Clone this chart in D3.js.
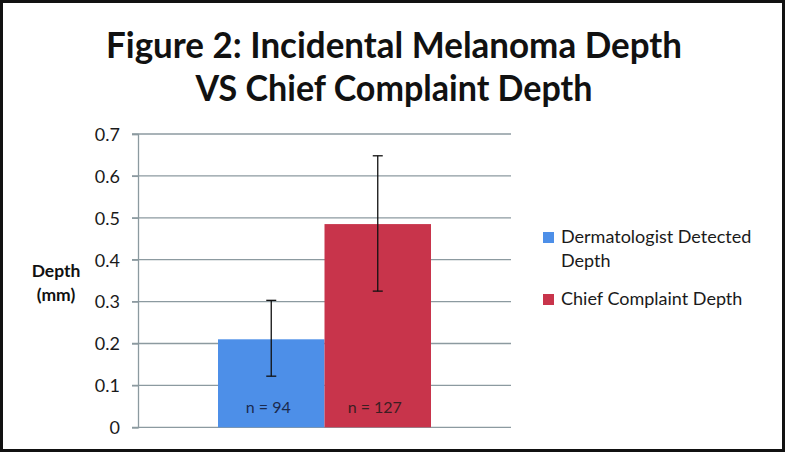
<!DOCTYPE html>
<html><head><meta charset="utf-8">
<script src="https://cdn.jsdelivr.net/npm/d3@7"></script>
<style>html,body{margin:0;padding:0;background:#fff;}svg{display:block;font-family:Lato,"Open Sans",sans-serif;}</style>
</head><body>
<svg id="c" width="785" height="452"></svg>
<script>
const titleLines = ["Figure 2: Incidental Melanoma Depth", "VS Chief Complaint Depth"];
const series = ["Dermatologist Detected Depth", "Chief Complaint Depth"];
const values = [0.21, 0.485];
const errLow = [0.122, 0.325];
const errHigh = [0.303, 0.648];
const barLabels = ["n = 94", "n = 127"];
const colors = ["#4d8fe8", "#c8344b"];
const labelColors = ["#1b2a4e", "#3b1e22"];
const yTicks = [0, 0.1, 0.2, 0.3, 0.4, 0.5, 0.6, 0.7];
const legendLines = [["Dermatologist Detected", "Depth"], ["Chief Complaint Depth"]];

const svg = d3.select("#c");
svg.append("rect").attr("x",1.5).attr("y",1.5).attr("width",782).attr("height",449)
  .attr("fill","#fff").attr("stroke","#111").attr("stroke-width",3);

// title
const tw = [576, 397];
svg.selectAll("text.title").data(titleLines).join("text")
  .attr("class","title")
  .attr("x",394).attr("y",(d,i)=>58+i*43)
  .attr("text-anchor","middle")
  .attr("font-size",35.5).attr("font-weight","bold").attr("fill","#111")
  .attr("textLength",(d,i)=>tw[i]).attr("lengthAdjust","spacingAndGlyphs")
  .text(d=>d);

const y = d3.scaleLinear().domain([0,0.7]).range([427.3,134]);
const x = d3.scaleBand().domain(series).range([218,431]).padding(0);
const axisX = 138, gridEnd = 511;

// gridlines
svg.append("g").selectAll("line").data(yTicks).join("line")
  .attr("x1",132).attr("x2",gridEnd)
  .attr("y1",d=>y(d)).attr("y2",d=>y(d))
  .attr("stroke","#8c9aa0").attr("stroke-width",1.3);

// y axis
const ax = svg.append("g").attr("transform",`translate(${axisX},0)`)
  .call(d3.axisLeft(y).tickValues(yTicks).tickSize(6).tickPadding(12)
    .tickFormat(d=>d===0?"0":d.toFixed(1)));
ax.select(".domain").attr("stroke","#8c9aa0").attr("stroke-width",1.3);
ax.selectAll(".tick line").attr("stroke","#8c9aa0").attr("stroke-width",1.3);
ax.selectAll(".tick text").attr("font-size",18).attr("fill","#1a1a1a")
  .attr("font-family","Lato,sans-serif").attr("dy","0.35em");

// bars
svg.append("g").selectAll("rect").data(values).join("rect")
  .attr("x",(d,i)=>x(series[i])).attr("width",x.bandwidth())
  .attr("y",d=>y(d)).attr("height",d=>y(0)-y(d))
  .attr("fill",(d,i)=>colors[i]);

// bar labels
svg.append("g").selectAll("text").data(barLabels).join("text")
  .attr("x",(d,i)=>x(series[i])+x.bandwidth()/2-3).attr("y",413)
  .attr("text-anchor","middle").attr("font-size",16)
  .attr("fill",(d,i)=>labelColors[i]).text(d=>d);

// error bars
const eg = svg.append("g").attr("stroke","#111").attr("stroke-width",1.3);
series.forEach((s,i)=>{
  const cx = x(s)+x.bandwidth()/2;
  eg.append("line").attr("x1",cx).attr("x2",cx).attr("y1",y(errLow[i])).attr("y2",y(errHigh[i]));
  [errLow[i],errHigh[i]].forEach(v=>{
    eg.append("line").attr("x1",cx-5).attr("x2",cx+5).attr("y1",y(v)).attr("y2",y(v));
  });
});

// y axis title
svg.append("text").attr("x",56).attr("y",277).attr("text-anchor","middle")
  .attr("font-size",17.5).attr("font-weight","bold").attr("fill","#111").text("Depth");
svg.append("text").attr("x",56).attr("y",301).attr("text-anchor","middle")
  .attr("font-size",17.5).attr("font-weight","bold").attr("fill","#111").text("(mm)");

// legend
const legY = [243, 305];
legendLines.forEach((lines,i)=>{
  svg.append("rect").attr("x",543).attr("y",legY[i]-11).attr("width",11).attr("height",11)
    .attr("fill",colors[i]);
  lines.forEach((t,j)=>{
    svg.append("text").attr("x",561).attr("y",legY[i]+j*24)
      .attr("font-size",18).attr("fill","#1a1a1a").text(t);
  });
});
</script>
</body></html>
